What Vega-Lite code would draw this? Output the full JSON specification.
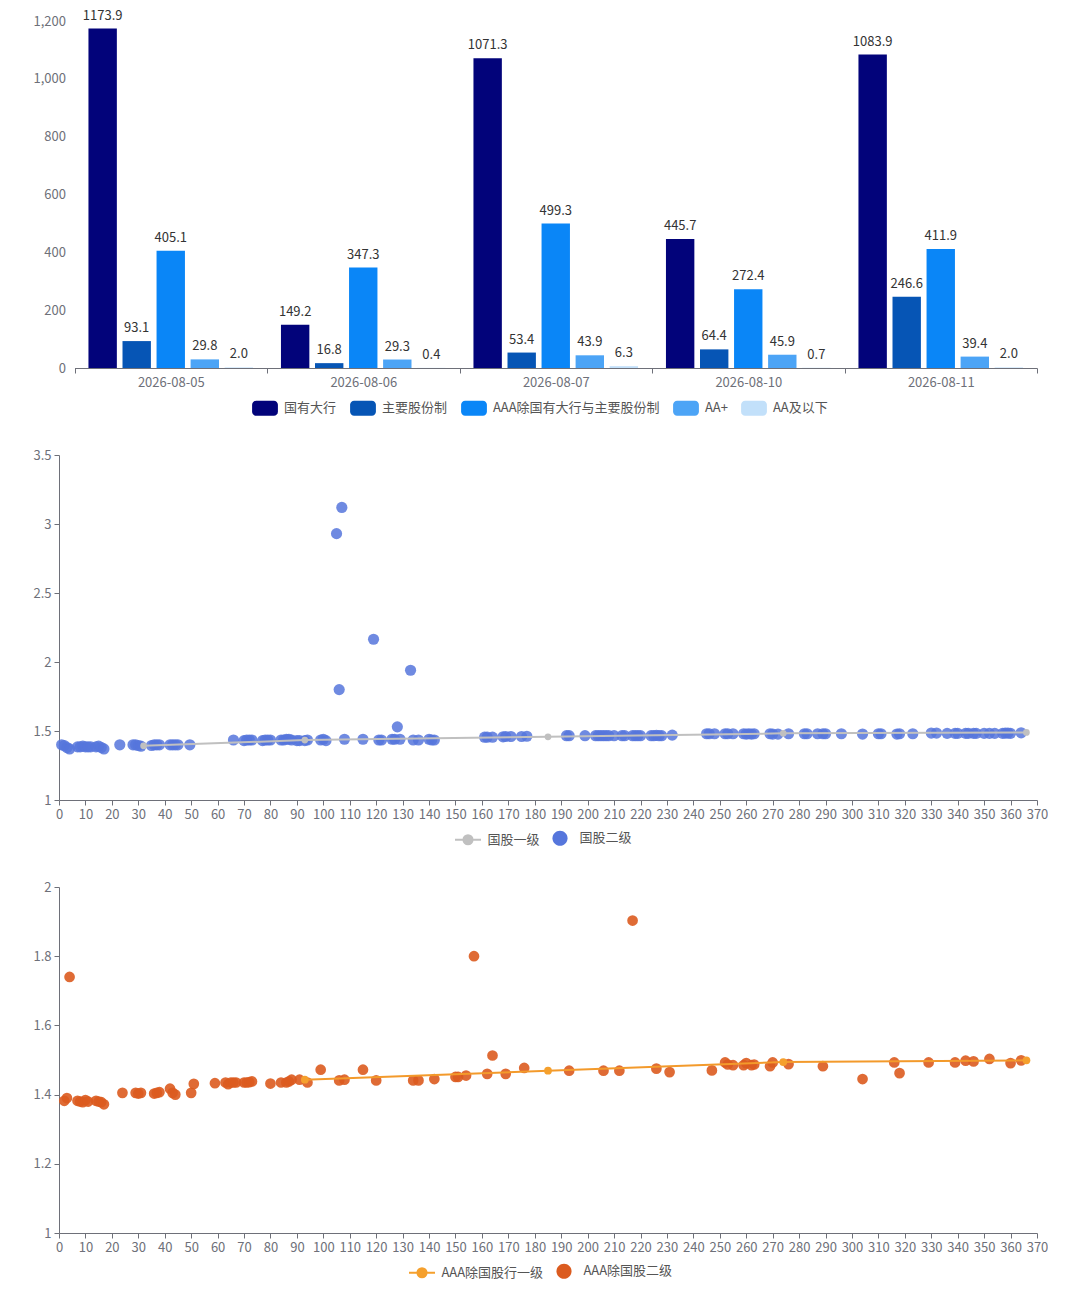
{
  "$schema": "https://vega.github.io/schema/vega-lite/v6.json",
  "background": "white",
  "padding": {"left": 32, "top": 9, "right": 0, "bottom": 0},
  "config": {
    "font": "Noto Sans CJK SC",
    "view": {"stroke": null},
    "axis": {
      "labelFont": "Noto Sans CJK SC",
      "labelFontSize": 13,
      "labelColor": "#6e7079",
      "domainColor": "#6e7079",
      "tickColor": "#6e7079",
      "grid": false
    },
    "legend": {
      "labelFont": "Noto Sans CJK SC",
      "labelFontSize": 13,
      "labelColor": "#555555",
      "labelLimit": 400
    }
  },
  "bounds": "flush",
  "spacing": 87,
  "datasets": {
    "bars": [
      {"date": "2026-08-05", "type": "国有大行", "value": 1173.9},
      {"date": "2026-08-05", "type": "主要股份制", "value": 93.1},
      {"date": "2026-08-05", "type": "AAA除国有大行与主要股份制", "value": 405.1},
      {"date": "2026-08-05", "type": "AA+", "value": 29.8},
      {"date": "2026-08-05", "type": "AA及以下", "value": 2.0},
      {"date": "2026-08-06", "type": "国有大行", "value": 149.2},
      {"date": "2026-08-06", "type": "主要股份制", "value": 16.8},
      {"date": "2026-08-06", "type": "AAA除国有大行与主要股份制", "value": 347.3},
      {"date": "2026-08-06", "type": "AA+", "value": 29.3},
      {"date": "2026-08-06", "type": "AA及以下", "value": 0.4},
      {"date": "2026-08-07", "type": "国有大行", "value": 1071.3},
      {"date": "2026-08-07", "type": "主要股份制", "value": 53.4},
      {"date": "2026-08-07", "type": "AAA除国有大行与主要股份制", "value": 499.3},
      {"date": "2026-08-07", "type": "AA+", "value": 43.9},
      {"date": "2026-08-07", "type": "AA及以下", "value": 6.3},
      {"date": "2026-08-10", "type": "国有大行", "value": 445.7},
      {"date": "2026-08-10", "type": "主要股份制", "value": 64.4},
      {"date": "2026-08-10", "type": "AAA除国有大行与主要股份制", "value": 272.4},
      {"date": "2026-08-10", "type": "AA+", "value": 45.9},
      {"date": "2026-08-10", "type": "AA及以下", "value": 0.7},
      {"date": "2026-08-11", "type": "国有大行", "value": 1083.9},
      {"date": "2026-08-11", "type": "主要股份制", "value": 246.6},
      {"date": "2026-08-11", "type": "AAA除国有大行与主要股份制", "value": 411.9},
      {"date": "2026-08-11", "type": "AA+", "value": 39.4},
      {"date": "2026-08-11", "type": "AA及以下", "value": 2.0}
    ],
    "g1": [
      {"x": 32, "y": 1.393}, {"x": 93, "y": 1.434}, {"x": 185, "y": 1.458},
      {"x": 274, "y": 1.483}, {"x": 366, "y": 1.49}
    ],
    "g2": [
      {"x": 1, "y": 1.4}, {"x": 2, "y": 1.395}, {"x": 3, "y": 1.38}, {"x": 4, "y": 1.37},
      {"x": 7, "y": 1.385}, {"x": 8, "y": 1.385}, {"x": 9, "y": 1.39}, {"x": 10, "y": 1.385},
      {"x": 11, "y": 1.385}, {"x": 12, "y": 1.385}, {"x": 14, "y": 1.385}, {"x": 15, "y": 1.39},
      {"x": 16, "y": 1.38}, {"x": 17, "y": 1.37},
      {"x": 23, "y": 1.4}, {"x": 28, "y": 1.4}, {"x": 29, "y": 1.4}, {"x": 30, "y": 1.395}, {"x": 31, "y": 1.39},
      {"x": 35, "y": 1.395}, {"x": 36, "y": 1.4}, {"x": 37, "y": 1.4}, {"x": 38, "y": 1.4},
      {"x": 42, "y": 1.4}, {"x": 43, "y": 1.4}, {"x": 44, "y": 1.4}, {"x": 45, "y": 1.4}, {"x": 49.5, "y": 1.4},
      {"x": 66, "y": 1.435}, {"x": 70, "y": 1.43}, {"x": 71, "y": 1.435}, {"x": 72, "y": 1.435}, {"x": 73, "y": 1.435},
      {"x": 77, "y": 1.43}, {"x": 78, "y": 1.435}, {"x": 79, "y": 1.435}, {"x": 80, "y": 1.435},
      {"x": 84, "y": 1.435}, {"x": 85, "y": 1.435}, {"x": 86, "y": 1.44}, {"x": 87, "y": 1.44}, {"x": 88, "y": 1.435},
      {"x": 90, "y": 1.43}, {"x": 91, "y": 1.43}, {"x": 93, "y": 1.43}, {"x": 94, "y": 1.435},
      {"x": 99, "y": 1.435}, {"x": 100, "y": 1.44}, {"x": 101, "y": 1.43},
      {"x": 105, "y": 2.93}, {"x": 106, "y": 1.8}, {"x": 107, "y": 3.12}, {"x": 108, "y": 1.44},
      {"x": 115, "y": 1.44}, {"x": 119, "y": 2.165}, {"x": 121, "y": 1.435}, {"x": 122, "y": 1.435},
      {"x": 126, "y": 1.44}, {"x": 127, "y": 1.44}, {"x": 128, "y": 1.53}, {"x": 129, "y": 1.44},
      {"x": 133, "y": 1.94}, {"x": 134, "y": 1.435}, {"x": 136, "y": 1.435},
      {"x": 140, "y": 1.44}, {"x": 141, "y": 1.435}, {"x": 142, "y": 1.435},
      {"x": 161, "y": 1.455}, {"x": 162, "y": 1.455}, {"x": 164, "y": 1.455},
      {"x": 168, "y": 1.458}, {"x": 169, "y": 1.46}, {"x": 171, "y": 1.46}, {"x": 175, "y": 1.46}, {"x": 177, "y": 1.462},
      {"x": 192, "y": 1.466}, {"x": 193, "y": 1.466}, {"x": 199, "y": 1.466}, {"x": 203, "y": 1.466},
      {"x": 204, "y": 1.466}, {"x": 205, "y": 1.466}, {"x": 206, "y": 1.466}, {"x": 207, "y": 1.466},
      {"x": 208, "y": 1.466}, {"x": 210, "y": 1.466}, {"x": 213, "y": 1.466}, {"x": 214, "y": 1.466},
      {"x": 217, "y": 1.466}, {"x": 218, "y": 1.466}, {"x": 219, "y": 1.466}, {"x": 220, "y": 1.466},
      {"x": 224, "y": 1.466}, {"x": 225, "y": 1.466}, {"x": 226, "y": 1.468}, {"x": 227, "y": 1.466},
      {"x": 228, "y": 1.466}, {"x": 232, "y": 1.47},
      {"x": 245, "y": 1.48}, {"x": 246, "y": 1.48}, {"x": 248, "y": 1.48}, {"x": 252, "y": 1.48},
      {"x": 253, "y": 1.48}, {"x": 255, "y": 1.48}, {"x": 259, "y": 1.48}, {"x": 260, "y": 1.478},
      {"x": 261, "y": 1.48}, {"x": 262, "y": 1.478}, {"x": 263, "y": 1.48}, {"x": 269, "y": 1.48},
      {"x": 270, "y": 1.478}, {"x": 272, "y": 1.478}, {"x": 276, "y": 1.48}, {"x": 282, "y": 1.48},
      {"x": 283, "y": 1.48}, {"x": 287, "y": 1.48}, {"x": 289, "y": 1.48}, {"x": 290, "y": 1.48},
      {"x": 296, "y": 1.48}, {"x": 304, "y": 1.478}, {"x": 310, "y": 1.48}, {"x": 311, "y": 1.48},
      {"x": 317, "y": 1.478}, {"x": 318, "y": 1.48}, {"x": 323, "y": 1.48}, {"x": 330, "y": 1.485},
      {"x": 332, "y": 1.485}, {"x": 336, "y": 1.483}, {"x": 339, "y": 1.483}, {"x": 340, "y": 1.483},
      {"x": 343, "y": 1.483}, {"x": 344, "y": 1.483}, {"x": 346, "y": 1.483}, {"x": 347, "y": 1.483},
      {"x": 350, "y": 1.483}, {"x": 352, "y": 1.483}, {"x": 354, "y": 1.483}, {"x": 357, "y": 1.483},
      {"x": 358, "y": 1.485}, {"x": 359, "y": 1.485}, {"x": 360, "y": 1.483}, {"x": 364, "y": 1.487}
    ],
    "a1": [
      {"x": 93, "y": 1.443}, {"x": 185, "y": 1.469}, {"x": 274, "y": 1.494}, {"x": 366, "y": 1.499}
    ],
    "a2": [
      {"x": 2, "y": 1.382}, {"x": 3, "y": 1.39}, {"x": 4, "y": 1.74}, {"x": 7, "y": 1.382},
      {"x": 8, "y": 1.38}, {"x": 9, "y": 1.378}, {"x": 10, "y": 1.384}, {"x": 11, "y": 1.38},
      {"x": 14, "y": 1.382}, {"x": 15, "y": 1.38}, {"x": 16, "y": 1.378}, {"x": 17, "y": 1.372},
      {"x": 24, "y": 1.405}, {"x": 29, "y": 1.405}, {"x": 30, "y": 1.403}, {"x": 31, "y": 1.405},
      {"x": 36, "y": 1.403}, {"x": 37, "y": 1.405}, {"x": 38, "y": 1.407}, {"x": 42, "y": 1.417},
      {"x": 43, "y": 1.405}, {"x": 44, "y": 1.4}, {"x": 50, "y": 1.405}, {"x": 51, "y": 1.431},
      {"x": 59, "y": 1.433}, {"x": 63, "y": 1.435}, {"x": 64, "y": 1.43}, {"x": 65, "y": 1.435},
      {"x": 66, "y": 1.435}, {"x": 67, "y": 1.435}, {"x": 70, "y": 1.435}, {"x": 71, "y": 1.435},
      {"x": 72, "y": 1.436}, {"x": 73, "y": 1.438},
      {"x": 80, "y": 1.432}, {"x": 84, "y": 1.435}, {"x": 86, "y": 1.435}, {"x": 87, "y": 1.438},
      {"x": 88, "y": 1.443}, {"x": 91, "y": 1.443}, {"x": 94, "y": 1.435},
      {"x": 99, "y": 1.472}, {"x": 106, "y": 1.441}, {"x": 108, "y": 1.443}, {"x": 115, "y": 1.472},
      {"x": 120, "y": 1.441}, {"x": 134, "y": 1.441}, {"x": 136, "y": 1.441}, {"x": 142, "y": 1.445},
      {"x": 150, "y": 1.451}, {"x": 151, "y": 1.451}, {"x": 154, "y": 1.455}, {"x": 157, "y": 1.8},
      {"x": 162, "y": 1.46}, {"x": 164, "y": 1.513}, {"x": 169, "y": 1.46}, {"x": 176, "y": 1.477},
      {"x": 193, "y": 1.469}, {"x": 206, "y": 1.469}, {"x": 212, "y": 1.469}, {"x": 217, "y": 1.903},
      {"x": 226, "y": 1.475}, {"x": 231, "y": 1.465}, {"x": 247, "y": 1.47}, {"x": 252, "y": 1.493},
      {"x": 253, "y": 1.487}, {"x": 255, "y": 1.485}, {"x": 259, "y": 1.485}, {"x": 260, "y": 1.491},
      {"x": 262, "y": 1.485}, {"x": 263, "y": 1.487}, {"x": 269, "y": 1.482}, {"x": 270, "y": 1.493},
      {"x": 276, "y": 1.488}, {"x": 289, "y": 1.482}, {"x": 304, "y": 1.445}, {"x": 316, "y": 1.493},
      {"x": 318, "y": 1.462}, {"x": 329, "y": 1.493}, {"x": 339, "y": 1.493}, {"x": 343, "y": 1.498},
      {"x": 346, "y": 1.496}, {"x": 352, "y": 1.503}, {"x": 360, "y": 1.491}, {"x": 364, "y": 1.499}
    ]
  },
  "vconcat": [
    {
      "width": 978,
      "height": 347,
      "data": {"name": "bars"},
      "encoding": {
        "x": {
          "field": "date", "type": "nominal", "sort": null,
          "scale": {"paddingInner": 0, "paddingOuter": 0, "rangeMin": 15.5},
          "axis": {"title": null, "labelAngle": 0, "tickBand": "extent", "tickSize": 5, "labelPadding": 3}
        },
        "xOffset": {
          "field": "type", "type": "nominal", "sort": null,
          "scale": {"paddingInner": 0.166, "paddingOuter": 0.41}
        },
        "y": {
          "field": "value", "type": "quantitative",
          "scale": {"domain": [0, 1200], "nice": false},
          "axis": {"title": null, "domain": false, "ticks": false, "offset": -15.5, "labelPadding": 9, "values": [0, 200, 400, 600, 800, 1000, 1200], "format": ",d"}
        }
      },
      "layer": [
        {
          "mark": {"type": "bar"},
          "encoding": {
            "color": {
              "field": "type", "type": "nominal", "sort": null,
              "scale": {
                "domain": ["国有大行", "主要股份制", "AAA除国有大行与主要股份制", "AA+", "AA及以下"],
                "range": ["#02037a", "#0655b5", "#0a86f7", "#4ca4f6", "#c2e0fa"]
              },
              "legend": {
                "title": null, "orient": "none", "legendX": 193, "legendY": 374,
                "direction": "horizontal", "columns": 5,
                "symbolType": "M-0.69,-0.58H0.69A0.31,0.31 0 0 1 1,-0.27V0.27A0.31,0.31 0 0 1 0.69,0.58H-0.69A0.31,0.31 0 0 1 -1,0.27V-0.27A0.31,0.31 0 0 1 -0.69,-0.58Z",
                "symbolSize": 666, "symbolStrokeWidth": 0, "symbolOpacity": 1,
                "columnPadding": 13, "labelOffset": 6
              }
            }
          }
        },
        {
          "mark": {"type": "text", "baseline": "alphabetic", "dy": -9, "fontSize": 13, "color": "#333333"},
          "encoding": {"text": {"field": "value", "type": "quantitative", "format": ".1f"}}
        }
      ]
    },
    {
      "width": 978,
      "height": 345,
      "encoding": {
        "x": {
          "field": "x", "type": "quantitative",
          "scale": {"domain": [0, 370], "nice": false, "zero": false},
          "axis": {"title": null, "values": [0, 10, 20, 30, 40, 50, 60, 70, 80, 90, 100, 110, 120, 130, 140, 150, 160, 170, 180, 190, 200, 210, 220, 230, 240, 250, 260, 270, 280, 290, 300, 310, 320, 330, 340, 350, 360, 370], "labelFlush": false, "labelOverlap": false, "tickSize": 5, "labelPadding": 3}
        },
        "y": {
          "field": "y", "type": "quantitative",
          "scale": {"domain": [1, 3.5], "nice": false, "zero": false},
          "axis": {"title": null, "values": [1, 1.5, 2, 2.5, 3, 3.5], "format": ".1~f", "labelFlush": false, "tickSize": 5, "labelPadding": 3}
        }
      },
      "layer": [
        {
          "data": {"name": "g2"},
          "mark": {"type": "point", "filled": true, "size": 125, "opacity": 0.85},
          "encoding": {
            "color": {
              "datum": "国股二级", "type": "nominal",
              "scale": {"domain": ["国股一级", "国股二级"], "range": ["#c0c0c0", "#5676dc"]},
              "legend": {
                "title": null, "orient": "none", "legendX": 395, "legendY": 369,
                "direction": "horizontal", "columns": 2,
                "symbolSize": 676, "columnPadding": 6, "labelOffset": 5.5,
                "symbolType": {"expr": "datum.value === '国股一级' ? 'M-1,0H1M-0.35,0A0.35,0.35 0 1,0 0.35,0A0.35,0.35 0 1,0 -0.35,0Z' : 'M-0.58,0A0.58,0.58 0 1,0 0.58,0A0.58,0.58 0 1,0 -0.58,0Z'"},
                "symbolStrokeColor": {"expr": "datum.value === '国股一级' ? '#c0c0c0' : 'transparent'"},
                "symbolStrokeWidth": 2,
                "symbolOpacity": 1
              }
            }
          }
        },
        {
          "data": {"name": "g1"},
          "mark": {"type": "line", "color": "#c0c0c0", "strokeWidth": 2},
          "encoding": {}
        },
        {
          "data": {"name": "g1"},
          "mark": {"type": "point", "filled": true, "size": 45, "opacity": 1},
          "encoding": {
            "color": {
              "datum": "国股一级", "type": "nominal",
              "legend": {
                "title": null, "orient": "none", "legendX": 395, "legendY": 369,
                "direction": "horizontal", "columns": 2,
                "symbolSize": 676, "columnPadding": 6, "labelOffset": 5.5,
                "symbolType": {"expr": "datum.value === '国股一级' ? 'M-1,0H1M-0.35,0A0.35,0.35 0 1,0 0.35,0A0.35,0.35 0 1,0 -0.35,0Z' : 'M-0.58,0A0.58,0.58 0 1,0 0.58,0A0.58,0.58 0 1,0 -0.58,0Z'"},
                "symbolStrokeColor": {"expr": "datum.value === '国股一级' ? '#c0c0c0' : 'transparent'"},
                "symbolStrokeWidth": 2,
                "symbolOpacity": 1
              }
            }
          }
        }
      ]
    },
    {
      "width": 978,
      "height": 346,
      "encoding": {
        "x": {
          "field": "x", "type": "quantitative",
          "scale": {"domain": [0, 370], "nice": false, "zero": false},
          "axis": {"title": null, "values": [0, 10, 20, 30, 40, 50, 60, 70, 80, 90, 100, 110, 120, 130, 140, 150, 160, 170, 180, 190, 200, 210, 220, 230, 240, 250, 260, 270, 280, 290, 300, 310, 320, 330, 340, 350, 360, 370], "labelFlush": false, "labelOverlap": false, "tickSize": 5, "labelPadding": 3}
        },
        "y": {
          "field": "y", "type": "quantitative",
          "scale": {"domain": [1, 2], "nice": false, "zero": false},
          "axis": {"title": null, "values": [1, 1.2, 1.4, 1.6, 1.8, 2], "format": ".1~f", "labelFlush": false, "tickSize": 5, "labelPadding": 3}
        }
      },
      "layer": [
        {
          "data": {"name": "a2"},
          "mark": {"type": "point", "filled": true, "size": 115, "opacity": 0.9},
          "encoding": {
            "color": {
              "datum": "AAA除国股二级", "type": "nominal",
              "scale": {"domain": ["AAA除国股行一级", "AAA除国股二级"], "range": ["#f5a02d", "#db5b1f"]},
              "legend": {
                "title": null, "orient": "none", "legendX": 349, "legendY": 370,
                "direction": "horizontal", "columns": 2,
                "symbolSize": 676, "columnPadding": 6, "labelOffset": 5.5,
                "symbolType": {"expr": "datum.value === 'AAA除国股行一级' ? 'M-1,0H1M-0.35,0A0.35,0.35 0 1,0 0.35,0A0.35,0.35 0 1,0 -0.35,0Z' : 'M-0.58,0A0.58,0.58 0 1,0 0.58,0A0.58,0.58 0 1,0 -0.58,0Z'"},
                "symbolStrokeColor": {"expr": "datum.value === 'AAA除国股行一级' ? '#f5a02d' : 'transparent'"},
                "symbolStrokeWidth": 2,
                "symbolOpacity": 1
              }
            }
          }
        },
        {
          "data": {"name": "a1"},
          "mark": {"type": "line", "color": "#f39a2b", "strokeWidth": 2},
          "encoding": {}
        },
        {
          "data": {"name": "a1"},
          "mark": {"type": "point", "filled": true, "size": 60, "opacity": 1},
          "encoding": {
            "color": {
              "datum": "AAA除国股行一级", "type": "nominal",
              "legend": {
                "title": null, "orient": "none", "legendX": 349, "legendY": 370,
                "direction": "horizontal", "columns": 2,
                "symbolSize": 676, "columnPadding": 6, "labelOffset": 5.5,
                "symbolType": {"expr": "datum.value === 'AAA除国股行一级' ? 'M-1,0H1M-0.35,0A0.35,0.35 0 1,0 0.35,0A0.35,0.35 0 1,0 -0.35,0Z' : 'M-0.58,0A0.58,0.58 0 1,0 0.58,0A0.58,0.58 0 1,0 -0.58,0Z'"},
                "symbolStrokeColor": {"expr": "datum.value === 'AAA除国股行一级' ? '#f5a02d' : 'transparent'"},
                "symbolStrokeWidth": 2,
                "symbolOpacity": 1
              }
            }
          }
        }
      ]
    }
  ],
  "resolve": {"scale": {"color": "independent"}, "legend": {"color": "independent"}}
}
